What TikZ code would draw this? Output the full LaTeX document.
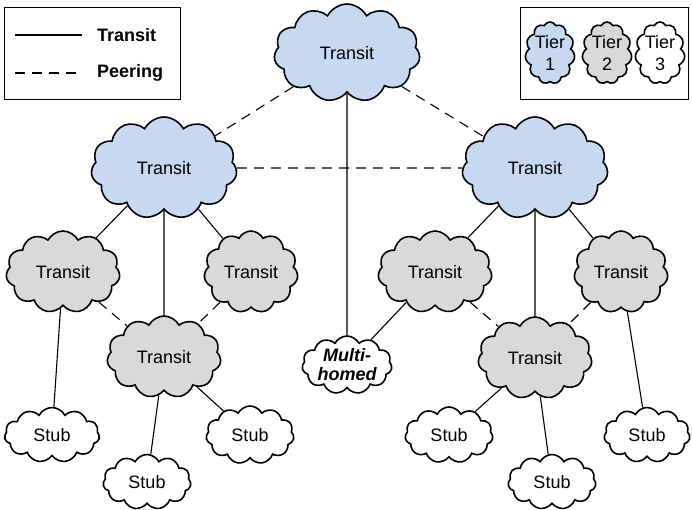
\documentclass[tikz,border=0pt]{standalone}
\usepackage{fontspec}
\setmainfont{Liberation Sans}
\usetikzlibrary{shapes.symbols}
\definecolor{tieronefill}{HTML}{C6D9F0}
\definecolor{tiertwofill}{HTML}{D9D9D9}
\begin{document}
\begin{tikzpicture}[x=1pt,y=-1pt,
  font=\fontsize{18}{21}\selectfont,
  net/.style={cloud, cloud puffs=11, cloud puff arc=125, cloud ignores aspect,
    draw=black, line width=1.6pt, inner sep=0pt, align=center},
  tierone/.style={net, fill=tieronefill},
  tiertwo/.style={net, fill=tiertwofill},
  tierthree/.style={net, fill=white},
  transit/.style={draw=black, line width=1.1pt},
  peering/.style={draw=black, line width=1.1pt, dash pattern=on 10pt off 7pt},
  legendbox/.style={draw=black, line width=1pt}]
\path[use as bounding box] (0,0) rectangle (692,510);

% Tier 1 providers
\node[tierone, minimum width=146pt, minimum height=98pt] (top) at (347,53) {Transit};
\node[tierone, minimum width=146pt, minimum height=102pt] (lone) at (164,168) {Transit};
\node[tierone, minimum width=146pt, minimum height=102pt] (rone) at (535,168) {Transit};

% Tier 2 providers
\node[tiertwo, minimum width=114pt, minimum height=82pt] (la) at (63,272) {Transit};
\node[tiertwo, minimum width=94pt, minimum height=82pt] (lb) at (251,272) {Transit};
\node[tiertwo, minimum width=114pt, minimum height=82pt] (lc) at (164,357) {Transit};
\node[tiertwo, minimum width=114pt, minimum height=82pt] (ra) at (435,272) {Transit};
\node[tiertwo, minimum width=94pt, minimum height=82pt] (rb) at (621,272) {Transit};
\node[tiertwo, minimum width=114pt, minimum height=82pt] (rc) at (535,358) {Transit};

% Tier 3 networks
\node[tierthree, minimum width=90pt, minimum height=48pt,
  font=\fontsize{18}{19}\selectfont\bfseries\itshape] (multi) at (347,365) {Multi-\\homed};
\node[tierthree, minimum width=95pt, minimum height=55pt] (sa) at (52,435) {Stub};
\node[tierthree, minimum width=88pt, minimum height=55pt] (sb) at (147,482) {Stub};
\node[tierthree, minimum width=88pt, minimum height=58pt] (sc) at (250,435) {Stub};
\node[tierthree, minimum width=88pt, minimum height=56pt] (sd) at (449,435) {Stub};
\node[tierthree, minimum width=88pt, minimum height=55pt] (se) at (552,482) {Stub};
\node[tierthree, minimum width=86pt, minimum height=55pt] (sf) at (647,435) {Stub};

% Peering links
\draw[peering] (top) -- (lone);
\draw[peering] (top) -- (rone);
\draw[peering] (lone) -- (rone);
\draw[peering] (la) -- (lc);
\draw[peering] (lb) -- (lc);
\draw[peering] (ra) -- (rc);
\draw[peering] (rb) -- (rc);

% Transit links
\draw[transit] (top) -- (multi);
\draw[transit] (lone) -- (la);
\draw[transit] (lone) -- (lb);
\draw[transit] (lone) -- (lc);
\draw[transit] (rone) -- (ra);
\draw[transit] (rone) -- (rb);
\draw[transit] (rone) -- (rc);
\draw[transit] (ra) -- (multi);
\draw[transit] (la) -- (sa);
\draw[transit] (lc) -- (sb);
\draw[transit] (lc) -- (sc);
\draw[transit] (rc) -- (sd);
\draw[transit] (rc) -- (se);
\draw[transit] (rb) -- (sf);

% Link legend
\node[legendbox, minimum width=176pt, minimum height=92pt, inner sep=0pt] (linkkey) at (92,54) {};
\coordinate (ta) at (15,35);
\coordinate (tb) at (82,35);
\coordinate (pa) at (15,73);
\coordinate (pb) at (82,73);
\draw[transit] (ta) -- (tb);
\draw[peering] (pa) -- (pb);
\node[anchor=west, font=\fontsize{18}{21}\selectfont\bfseries, inner sep=0pt] (tlabel) at (97,35) {Transit};
\node[anchor=west, font=\fontsize{18}{21}\selectfont\bfseries, inner sep=0pt] (plabel) at (97,73) {Peering};

% Tier legend
\node[legendbox, minimum width=168pt, minimum height=92pt, inner sep=0pt] (tierkey) at (604,54) {};
\begin{scope}[every node/.append style={font=\fontsize{18}{22}\selectfont, cloud puffs=9}]
\node[tierone, minimum width=42pt, minimum height=62pt] (kone) at (550,53) {Tier\\1};
\node[tiertwo, minimum width=42pt, minimum height=62pt] (ktwo) at (607,53) {Tier\\2};
\node[tierthree, minimum width=40pt, minimum height=62pt] (kthree) at (660,53) {Tier\\3};
\end{scope}
\end{tikzpicture}
\end{document}
